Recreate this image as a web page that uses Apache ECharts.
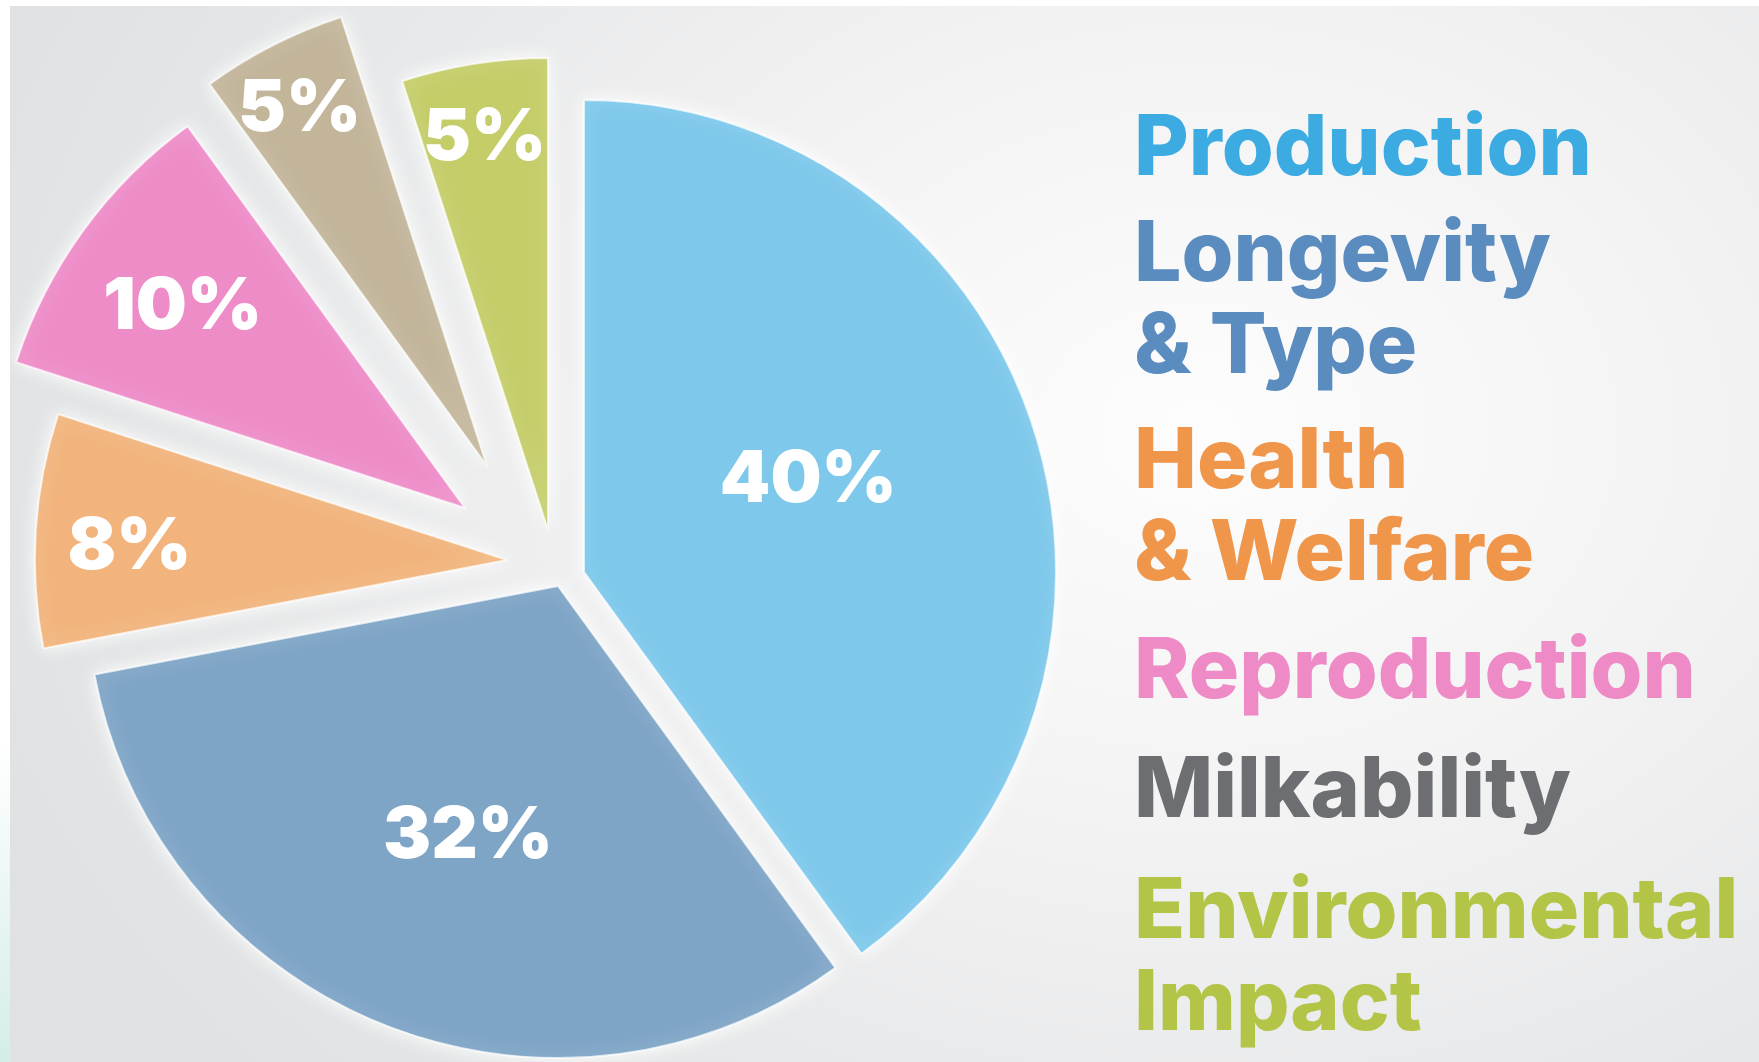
<!DOCTYPE html>
<html>
<head>
<meta charset="utf-8">
<title>Breeding index weighting</title>
<script src="https://cdn.jsdelivr.net/npm/echarts@6/dist/echarts.min.js"></script>
<style>
  html, body { margin: 0; padding: 0; width: 1759px; height: 1062px; overflow: hidden; }
  body { background: linear-gradient(to bottom, #ffffff 0%, #ffffff 70%, #d4ede8 100%); position: relative; }
  #chart {
    position: absolute; left: 10px; top: 6px; width: 1749px; height: 1056px;
    background: radial-gradient(ellipse 1300px 1000px at 1190px 424px,
      #fdfdfd 0%, #f4f4f5 35%, #e8e9ea 70%, #dfe1e2 100%);
  }
</style>
</head>
<body>
<div id="chart"></div>
<script>
// ---- data ----
const categories = ['Production', 'Longevity\n& Type', 'Health\n& Welfare', 'Reproduction', 'Milkability', 'Environmental\nImpact'];
const shares = [40, 32, 8, 10, 5, 5];

// ---- style ----
const sliceColors = ['#7dc8eb', '#7ea4c6', '#f2b47c', '#ee8cc8', '#c2b59a', '#c4cd68'];
const nameColors  = ['#3cabe1', '#5a8cbf', '#f0964a', '#ee8ac5', '#6d6e71', '#b3c447'];
const baseCenter = [550, 574];          // pie centre inside the chart box
const pieRadius = 472;
// each wedge is pulled away from the centre by its own amount
const sliceShift = [[24, -8], [-2, 6], [-53, -20], [-95, -72], [-73, -114], [-12, -50]];
// nudge of each percentage away from the default "inside" spot
const labelNudge = [[-3, -18], [-2, 28], [-139, 2], [-89, -60], [-79, -144], [-26, -156]];
// vertical centre of each name block on the right
const nameCenterY = [144, 296, 503, 667, 786, 953];
const nameLeft = 1124;
const nameLineHeight = 92;
const textFont = 'Inter';

const chart = echarts.init(document.getElementById('chart'), null, { renderer: 'canvas' });

const series = shares.map((_, i) => ({
  type: 'pie',
  silent: true,
  animation: false,
  center: [baseCenter[0] + sliceShift[i][0], baseCenter[1] + sliceShift[i][1]],
  radius: [0, pieRadius],
  startAngle: 90,
  clockwise: true,
  avoidLabelOverlap: false,
  z: 2,
  itemStyle: {
    borderColor: 'rgba(255,255,255,0.7)',
    borderWidth: 2,
    shadowBlur: 18,
    shadowColor: 'rgba(255,255,255,0.95)'
  },
  label: {
    position: 'inside',
    formatter: '{c}%',
    color: '#ffffff',
    fontFamily: textFont,
    fontWeight: 900,
    fontSize: 72
  },
  labelLine: { show: false },
  labelLayout: function (params) {
    if (params.dataIndex !== i) return {};
    return { dx: labelNudge[i][0], dy: labelNudge[i][1] };
  },
  data: categories.map((name, j) => ({
    name: name,
    value: shares[j],
    itemStyle: j === i
      ? { color: sliceColors[j] }
      : { color: 'rgba(0,0,0,0)', borderWidth: 0, shadowBlur: 0, shadowColor: 'rgba(0,0,0,0)' },
    label: { show: j === i }
  }))
}));

const nameTexts = categories.map((name, i) => ({
  type: 'text',
  x: nameLeft,
  y: nameCenterY[i],
  z: 10,
  style: {
    text: name,
    fill: nameColors[i],
    font: '800 84px ' + textFont,
    lineHeight: nameLineHeight,
    align: 'left',
    verticalAlign: 'middle'
  }
}));

chart.setOption({
  backgroundColor: 'transparent',
  series: series,
  graphic: nameTexts
});
</script>
</body>
</html>
